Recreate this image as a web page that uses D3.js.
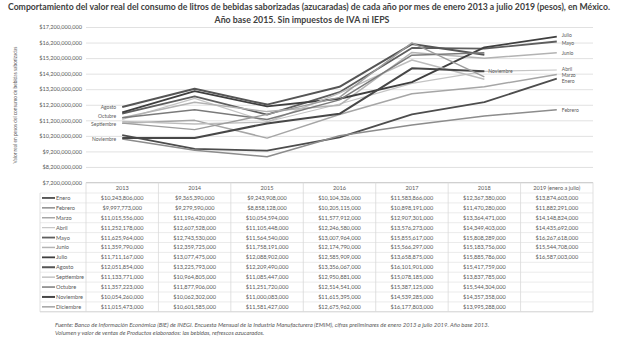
<!DOCTYPE html>
<html>
<head>
<meta charset="utf-8">
<script src="https://cdn.jsdelivr.net/npm/d3@7/dist/d3.min.js"></script>
<style>
  html, body { margin: 0; padding: 0; background: #fff; }
  svg { display: block; }
</style>
</head>
<body>
<svg id="chart" width="618" height="342"></svg>
<script>
// Categories (columns of the data table)
const years = ["2013", "2014", "2015", "2016", "2017", "2018", "2019 (enero a julio)"];
const months = ["Enero", "Febrero", "Marzo", "Abril", "Mayo", "Junio", "Julio",
                "Agosto", "Septiembre", "Octubre", "Noviembre", "Diciembre"];

// Real value of consumption per month, pesos (2019 only up to July)
const enero      = [10243806000,  9365390000,  9243908000, 10104326000, 11583866000, 12367380000, 13874603000];
const febrero    = [ 9997773000,  9279590000,  8858128000, 10205115000, 10898191000, 11470280000, 11882291000];
const marzo      = [11015556000, 11196420000, 10054594000, 11577912000, 12907301000, 13364471000, 14148824000];
const abril      = [11252178000, 12607528000, 11105448000, 12246580000, 13576273000, 14349403000, 14435692000];
const mayo       = [11625964000, 12743530000, 11564540000, 13007964000, 15855617000, 15808289000, 16267618000];
const junio      = [11359790000, 12359725000, 11758191000, 12174790000, 15566297000, 15183756000, 15544708000];
const julio      = [11711167000, 13077475000, 12088902000, 12585909000, 13658875000, 15885786000, 16587003000];
const agosto     = [12051854000, 13225793000, 12209490000, 13356067000, 16101901000, 15417759000, null];
const septiembre = [11133771000, 10964805000, 11085447000, 12950881000, 15078185000, 13837785000, null];
const octubre    = [11357223000, 11877906000, 11251720000, 12514541000, 15387125000, 15544304000, null];
const noviembre  = [10054260000, 10062302000, 11000083000, 11615395000, 14539285000, 14357358000, null];
const diciembre  = [11015473000, 10601585000, 11581427000, 12675962000, 16177803000, 13995288000, null];

const seriesValues = [enero, febrero, marzo, abril, mayo, junio, julio,
                      agosto, septiembre, octubre, noviembre, diciembre];

// Value axis ticks
const yTicks = [7.2e9, 8.2e9, 9.2e9, 10.2e9, 11.2e9, 12.2e9, 13.2e9, 14.2e9, 15.2e9, 16.2e9, 17.2e9];

// Series styling (grey shades, line widths)
const colors = ["#4d4d4d", "#8c8c8c", "#a6a6a6", "#c4c4c4", "#5e5e5e", "#b3b3b3",
                "#3f3f3f", "#555555", "#bdbdbd", "#7a7a7a", "#474747", "#9c9c9c"];
const widths = [1.8, 1.5, 1.5, 1.2, 1.8, 1.5, 1.8, 2.0, 1.4, 1.5, 2.0, 1.4];

const series = months.map((m, i) => ({ name: m, values: seriesValues[i], color: colors[i], width: widths[i] }));

const svg = d3.select("#chart");
const FONT = "Lato, 'Open Sans', sans-serif";

// Scales
const x = d3.scaleBand().domain(years).range([86, 593]).padding(0);
const y = d3.scaleLinear().domain([7.2e9, 17.2e9]).range([182.5, 27]);
const cx = d => x(d) + x.bandwidth() / 2;

// Title
const title = svg.append("g").attr("font-family", FONT).attr("font-weight", "bold")
  .attr("fill", "#404040").attr("text-anchor", "middle");
title.append("text").attr("x", 309).attr("y", 10).attr("font-size", 8.8)
  .attr("textLength", 602).attr("lengthAdjust", "spacingAndGlyphs")
  .text("Comportamiento del valor real del consumo de litros de bebidas saborizadas (azucaradas) de cada año por mes  de enero 2013 a julio 2019 (pesos), en México.");
title.append("text").attr("x", 302).attr("y", 23).attr("font-size", 8.8)
  .text("Año base 2015. Sin impuestos de IVA ni IEPS");

// Gridlines and value axis
const yAxis = d3.axisLeft(y).tickValues(yTicks).tickSize(-(593 - 86))
  .tickFormat(d => "$" + d3.format(",")(Math.round(d)));
const gy = svg.append("g").attr("transform", "translate(86,0)").call(yAxis);
gy.select(".domain").remove();
gy.selectAll(".tick line").attr("stroke", "#d9d9d9").attr("stroke-width", 0.8);
gy.selectAll(".tick text").attr("x", -4).attr("font-family", FONT).attr("font-size", 5.6).attr("fill", "#595959");

// Axis title
svg.append("text").attr("transform", "translate(17,105) rotate(-90)")
  .attr("text-anchor", "middle").attr("font-family", FONT).attr("font-size", 4.8).attr("fill", "#595959")
  .text("Valor real en pesos del consumo de bebidas saborizadas");

// Lines
const line = d3.line().defined(d => d.v != null).x(d => cx(d.year)).y(d => y(d.v));
svg.append("g").selectAll("path").data(series).join("path")
  .attr("d", s => line(s.values.map((v, i) => ({ year: years[i], v }))))
  .attr("fill", "none").attr("stroke", s => s.color).attr("stroke-width", s => s.width)
  .attr("stroke-linejoin", "round");

// Series name labels at the line ends (small vertical nudges keep them apart)
const lbl = svg.append("g").attr("font-family", FONT).attr("font-size", 5).attr("fill", "#595959");
const rightNudge = [2.5, 0, 0.5, -1, 1.5, 0, -1.5];
series.slice(0, 7).forEach((s, i) => {
  lbl.append("text").attr("x", cx(years[6]) + 5).attr("y", y(s.values[6]) + 2 + rightNudge[i]).text(s.name);
});
lbl.append("text").attr("x", cx(years[5]) + 4).attr("y", y(noviembre[5]) + 2).text("Noviembre");
const leftLabels = [["Agosto", agosto, 0], ["Octubre", octubre, -1.5], ["Septiembre", septiembre, 3], ["Noviembre", noviembre, 0.5]];
leftLabels.forEach(([name, vals, dy]) => {
  lbl.append("text").attr("x", cx(years[0]) - 6).attr("y", y(vals[0]) + 2 + dy)
    .attr("text-anchor", "end").text(name);
});

// Data table under the chart
const tTop = 182.5, headH = 10.5, rowH = 9.9, tLeft = 40;
const tBottom = tTop + headH + rowH * months.length;
const tbl = svg.append("g").attr("font-family", FONT).attr("font-size", 5.6).attr("fill", "#595959");
// borders
tbl.append("line").attr("x1", 86).attr("x2", 593).attr("y1", tTop).attr("y2", tTop).attr("stroke", "#d0d0d0");
months.forEach((m, i) => {
  const yy = tTop + headH + rowH * i;
  tbl.append("line").attr("x1", tLeft).attr("x2", 593).attr("y1", yy).attr("y2", yy)
    .attr("stroke", "#e3e3e3").attr("stroke-width", 0.7);
});
tbl.append("line").attr("x1", tLeft).attr("x2", 593).attr("y1", tBottom).attr("y2", tBottom).attr("stroke", "#d0d0d0");
years.forEach(yr => {
  tbl.append("line").attr("x1", x(yr)).attr("x2", x(yr)).attr("y1", tTop).attr("y2", tBottom).attr("stroke", "#d9d9d9").attr("stroke-width", 0.8);
});
tbl.append("line").attr("x1", 593).attr("x2", 593).attr("y1", tTop).attr("y2", tBottom).attr("stroke", "#d9d9d9").attr("stroke-width", 0.8);
tbl.append("line").attr("x1", tLeft).attr("x2", tLeft).attr("y1", tTop + headH).attr("y2", tBottom).attr("stroke", "#d9d9d9").attr("stroke-width", 0.8);
// header
years.forEach(yr => {
  tbl.append("text").attr("x", cx(yr)).attr("y", tTop + headH - 2.8).attr("text-anchor", "middle").text(yr);
});
// rows
series.forEach((s, i) => {
  const yy = tTop + headH + rowH * i + rowH / 2;
  tbl.append("line").attr("x1", tLeft + 2).attr("x2", tLeft + 15).attr("y1", yy).attr("y2", yy)
    .attr("stroke", s.color).attr("stroke-width", s.width);
  tbl.append("text").attr("x", tLeft + 16).attr("y", yy + 2).text(s.name);
  s.values.forEach((v, j) => {
    if (v == null) return;
    tbl.append("text").attr("x", cx(years[j])).attr("y", yy + 2).attr("text-anchor", "middle")
      .text("$" + d3.format(",")(v));
  });
});

// Source note
const note = svg.append("g").attr("font-family", FONT).attr("font-size", 5.9).attr("font-style", "italic").attr("fill", "#595959");
note.append("text").attr("x", 55).attr("y", 327)
  .text("Fuente: Banco de Información Económica (BIE) de INEGI. Encuesta Mensual de la Industria Manufacturera (EMIM), cifras preliminares de enero 2013 a julio 2019. Año base 2013.");
note.append("text").attr("x", 55).attr("y", 335)
  .text("Volumen y valor de ventas de Productos elaborados: las bebidas, refrescos azucarados.");
</script>
</body>
</html>
